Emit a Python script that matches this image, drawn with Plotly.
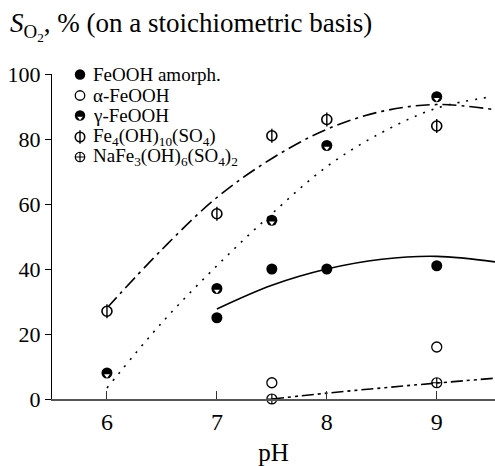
import plotly.graph_objects as go

# ---------------- data ----------------
ph_amorph = [7, 7.5, 8, 9]
s_amorph = [25, 40, 40, 41]

ph_alpha = [7.5, 9]
s_alpha = [5, 16]

ph_gamma = [6, 7, 7.5, 8, 9]
s_gamma = [8, 34, 55, 78, 93]

ph_fe4 = [6, 7, 7.5, 8, 9]
s_fe4 = [27, 57, 81, 86, 84]

ph_na = [7.5, 9]
s_na = [0, 5]

# fitted trend curves
fit_amorph_x = [7, 7.5, 8, 8.5, 9, 9.53]
fit_amorph_y = [27.7, 35, 40, 43, 43.9, 42.2]

fit_gamma_x = [6, 6.5, 7, 7.5, 8, 8.5, 9, 9.5]
fit_gamma_y = [3.4, 23.5, 41, 57, 71.5, 82, 89.5, 93]

fit_fe4_x = [6, 6.5, 7, 7.5, 8, 8.5, 9, 9.53]
fit_fe4_y = [28, 46, 62, 74, 83, 88.5, 90.6, 89]

fit_na_x = [7.5, 8, 8.5, 9, 9.53]
fit_na_y = [0, 1.8, 3.4, 4.9, 6.4]

legend_labels = [
    "FeOOH amorph.",
    "α-FeOOH",
    "γ-FeOOH",
    "Fe<sub>4</sub>(OH)<sub>10</sub>(SO<sub>4</sub>)",
    "NaFe<sub>3</sub>(OH)<sub>6</sub>(SO<sub>4</sub>)<sub>2</sub>",
]

x_ticks = [6, 7, 8, 9]
y_ticks = [0, 20, 40, 60, 80, 100]

# ---------------- styling / layout ----------------
FONT = "Liberation Serif"
INK = "black"
PX_PER_UNIT_Y = 3.25  # plot height 325 px over 0..100
TRI_OFFSET_PX = 2.5

fig = go.Figure()

def add_curve(x, y, dash):
    fig.add_trace(go.Scatter(x=x, y=y, mode="lines", line=dict(color=INK, width=1.6, dash=dash, shape="spline"),
                             showlegend=False, hoverinfo="skip", cliponaxis=False))

add_curve(fit_amorph_x, fit_amorph_y, "solid")
add_curve(fit_gamma_x, fit_gamma_y, "2px,7px")
add_curve(fit_fe4_x, fit_fe4_y, "14px,5px,3px,5px")
add_curve(fit_na_x, fit_na_y, "12px,4px,3px,4px,3px,4px")


def add_markers(x, y, kind, xaxis="x", yaxis="y", dy_unit=1.0, scale=1.0):
    common = dict(mode="markers", showlegend=False, hoverinfo="skip", cliponaxis=False, xaxis=xaxis, yaxis=yaxis)
    if kind == "filled":
        fig.add_trace(go.Scatter(x=x, y=y, marker=dict(symbol="circle", size=11 * scale, color=INK, line=dict(width=0)), **common))
    elif kind == "open":
        fig.add_trace(go.Scatter(x=x, y=y, marker=dict(symbol="circle-open", size=10 * scale, color=INK, line=dict(width=1.3)), **common))
    elif kind == "gamma":
        fig.add_trace(go.Scatter(x=x, y=y, marker=dict(symbol="circle", size=11 * scale, color=INK, line=dict(width=0)), **common))
        yy = [v - dy_unit * TRI_OFFSET_PX * scale for v in y]
        fig.add_trace(go.Scatter(x=x, y=yy, marker=dict(symbol="triangle-down", size=5 * scale, color="white", line=dict(width=0)), **common))
    elif kind == "fe4":
        fig.add_trace(go.Scatter(x=x, y=y, marker=dict(symbol="circle", size=10 * scale, color="white", line=dict(width=1.6, color=INK)), **common))
        fig.add_trace(go.Scatter(x=x, y=y, marker=dict(symbol="line-ns-open", size=10 * scale, color=INK, line=dict(width=1.4, color=INK)), **common))
    elif kind == "na":
        fig.add_trace(go.Scatter(x=x, y=y, marker=dict(symbol="circle-cross-open", size=10 * scale, color=INK, line=dict(width=1.2)), **common))


add_markers(ph_amorph, s_amorph, "filled", dy_unit=1 / PX_PER_UNIT_Y)
add_markers(ph_alpha, s_alpha, "open", dy_unit=1 / PX_PER_UNIT_Y)
add_markers(ph_gamma, s_gamma, "gamma", dy_unit=1 / PX_PER_UNIT_Y)
add_markers(ph_fe4, s_fe4, "fe4", dy_unit=1 / PX_PER_UNIT_Y)
add_markers(ph_na, s_na, "na", dy_unit=1 / PX_PER_UNIT_Y)

# manual legend on a pixel-space overlay axis
LEFT, RIGHT, TOP, BOTTOM = 52, 495, 74, 399
leg_marker_x = 80
leg_text_x = 91
leg_rows = [74.5, 95.5, 115.5, 137, 157]
kinds = ["filled", "open", "gamma", "fe4", "na"]
for row, kind in zip(leg_rows, kinds):
    add_markers([leg_marker_x], [row], kind, xaxis="x2", yaxis="y2", dy_unit=-1.0, scale=0.95)

annotations = []
for row, lab in zip(leg_rows, legend_labels):
    annotations.append(dict(x=leg_text_x, y=row, xref="x2", yref="y2", text=lab, showarrow=False,
                            xanchor="left", yanchor="middle", font=dict(family=FONT, size=19, color=INK)))

fig.update_layout(
    width=495, height=466,
    margin=dict(l=LEFT, r=495 - RIGHT, t=TOP, b=466 - BOTTOM),
    paper_bgcolor="white", plot_bgcolor="white",
    font=dict(family=FONT, color=INK),
    showlegend=False,
    title=dict(text="<i>S</i><sub>O<sub>2</sub></sub>, % (on a stoichiometric basis)",
               xref="container", yref="container", x=10 / 495, xanchor="left",
               y=1 - 23 / 466, yanchor="middle", font=dict(family=FONT, size=27, color=INK)),
    xaxis=dict(range=[5.5, 9.53], tickvals=x_ticks, ticks="inside", ticklen=8, tickwidth=1.2, tickcolor="#333",
               showline=True, linecolor="#555", linewidth=2, showgrid=False, zeroline=False,
               tickfont=dict(family=FONT, size=24, color=INK),
               title=dict(text="pH", font=dict(family=FONT, size=25, color=INK), standoff=12)),
    yaxis=dict(range=[0, 100], tickvals=y_ticks, ticks="outside", ticklen=6, tickwidth=1.2, tickcolor=INK,
               showline=True, linecolor=INK, linewidth=1.3, showgrid=False, zeroline=False,
               tickfont=dict(family=FONT, size=22, color=INK)),
    xaxis2=dict(overlaying="x", range=[LEFT, RIGHT], visible=False, fixedrange=True),
    yaxis2=dict(overlaying="y", range=[BOTTOM, TOP], visible=False, fixedrange=True),
    annotations=annotations,
)

fig.write_html("out.html")
